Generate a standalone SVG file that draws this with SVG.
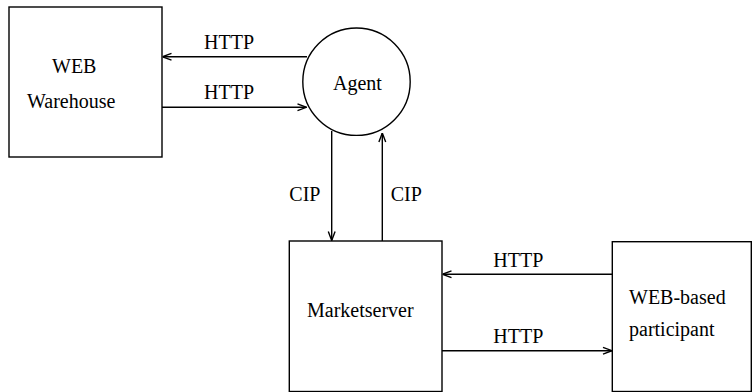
<svg xmlns="http://www.w3.org/2000/svg" width="753" height="392" viewBox="0 0 753 392">
<defs>
<style>
.box{fill:#fff;stroke:#000;stroke-width:1.4}
.ln{fill:none;stroke:#000;stroke-width:1.4}
text{font-family:"Liberation Serif","Times New Roman",serif;font-size:20px;fill:#000}
</style>
<marker id="ah" viewBox="0 0 10 10" refX="10" refY="5" markerWidth="10" markerHeight="10" markerUnits="userSpaceOnUse" orient="auto">
<path d="M1,1.6 L10,5 L1,8.4" fill="none" stroke="#000" stroke-width="1.4"/>
</marker>
</defs>
<rect width="753" height="392" fill="#fff"/>
<g id="warehouse">
<rect class="box" x="9" y="7" width="153" height="150"/>
<text x="52" y="73">WEB</text>
<text x="27" y="108">Warehouse</text>
</g>
<g id="agent">
<circle class="box" cx="356.5" cy="81.7" r="53.7"/>
<text x="333" y="90">Agent</text>
</g>
<g id="marketserver">
<rect class="box" x="289.3" y="241" width="152.7" height="150.5"/>
<text x="307" y="316.5">Marketserver</text>
</g>
<g id="participant">
<rect class="box" x="612.3" y="241.7" width="139" height="149.8"/>
<text x="629" y="304">WEB-based</text>
<text x="629" y="336">participant</text>
</g>
<g id="connectors">
<line class="ln" x1="307" y1="56.7" x2="162.5" y2="56.7" marker-end="url(#ah)"/>
<line class="ln" x1="162" y1="107.3" x2="306.5" y2="107.3" marker-end="url(#ah)"/>
<line class="ln" x1="331.7" y1="131" x2="331.7" y2="240.5" marker-end="url(#ah)"/>
<line class="ln" x1="382.3" y1="241" x2="382.3" y2="133" marker-end="url(#ah)"/>
<line class="ln" x1="612.3" y1="274.3" x2="442.5" y2="274.3" marker-end="url(#ah)"/>
<line class="ln" x1="442" y1="350.7" x2="612" y2="350.7" marker-end="url(#ah)"/>
<text x="204" y="49">HTTP</text>
<text x="204" y="99">HTTP</text>
<text x="289.3" y="200.7">CIP</text>
<text x="390.7" y="200.7">CIP</text>
<text x="493.3" y="267.3">HTTP</text>
<text x="493.3" y="342.7">HTTP</text>
</g>
</svg>
